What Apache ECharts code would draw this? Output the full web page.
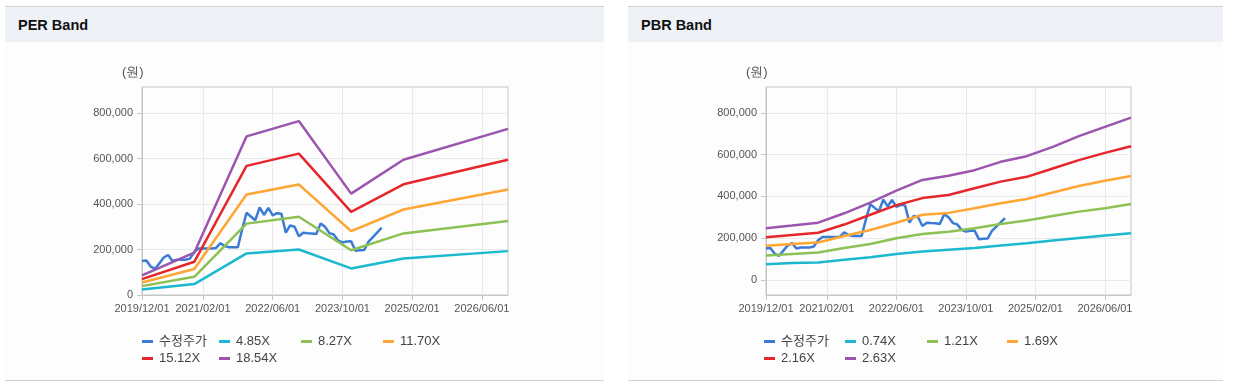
<!DOCTYPE html>
<html><head><meta charset="utf-8">
<script src="https://cdn.jsdelivr.net/npm/echarts@6/dist/echarts.min.js"></script>
<style>
html,body{margin:0;padding:0;background:#fff;width:1241px;height:387px;overflow:hidden;font-family:"Liberation Sans",Arial,"Noto Sans CJK KR",sans-serif;}
.panel{position:absolute;top:6px;height:373px;border-top:1px solid #d2d2d2;border-bottom:1px solid #d2d2d2;background:#fdfdfd;}
.hd{height:35px;background:#eef2f7;font-weight:bold;font-size:14.5px;line-height:37px;padding-left:13px;color:#111;}
#chart{position:absolute;left:0;top:0;width:1241px;height:387px;}
</style></head>
<body>
<div class="panel" style="left:5px;width:599px"><div class="hd">PER Band</div></div>
<div class="panel" style="left:628px;width:595px"><div class="hd">PBR Band</div></div>
<div id="chart"></div>
<script>
const months = [
'2019/12/01',
'2020/01/01','2020/02/01','2020/03/01','2020/04/01','2020/05/01','2020/06/01','2020/07/01','2020/08/01','2020/09/01','2020/10/01','2020/11/01','2020/12/01',
'2021/01/01','2021/02/01','2021/03/01','2021/04/01','2021/05/01','2021/06/01','2021/07/01','2021/08/01','2021/09/01','2021/10/01','2021/11/01','2021/12/01',
'2022/01/01','2022/02/01','2022/03/01','2022/04/01','2022/05/01','2022/06/01','2022/07/01','2022/08/01','2022/09/01','2022/10/01','2022/11/01','2022/12/01',
'2023/01/01','2023/02/01','2023/03/01','2023/04/01','2023/05/01','2023/06/01','2023/07/01','2023/08/01','2023/09/01','2023/10/01','2023/11/01','2023/12/01',
'2024/01/01','2024/02/01','2024/03/01','2024/04/01','2024/05/01','2024/06/01','2024/07/01','2024/08/01','2024/09/01','2024/10/01','2024/11/01','2024/12/01',
'2025/01/01','2025/02/01','2025/03/01','2025/04/01','2025/05/01','2025/06/01','2025/07/01','2025/08/01','2025/09/01','2025/10/01','2025/11/01','2025/12/01',
'2026/01/01','2026/02/01','2026/03/01','2026/04/01','2026/05/01','2026/06/01','2026/07/01','2026/08/01','2026/09/01','2026/10/01','2026/11/01','2026/12/01'
];
const xTickLabels = ['2019/12/01','2021/02/01','2022/06/01','2023/10/01','2025/02/01','2026/06/01'];
const yTickValues = [0,200000,400000,600000,800000];

// 수정주가 (monthly from 2019/12)
const price = [150000,152000,125000,115000,140000,165000,176000,150000,155000,155000,155000,160000,
  190000,205000,205000,205000,205000,207000,228000,215000,210000,210000,210000,290000,
  362000,345000,329000,385000,352000,383000,350000,360000,357000,274000,306000,300000,
  258000,274000,272000,271000,268000,315000,300000,272000,266000,240000,231000,235000,
  236000,195000,197000,198000,235000,255000,275000,296000];

// PER band
const perDates = ['2019/12/01','2020/12/01','2021/12/01','2022/12/01','2023/12/01','2024/12/01','2026/12/01'];
const per485  = [24000, 48000, 183000, 200000, 117000, 161000, 193000];
const per827  = [39000, 80000, 314000, 344000, 197000, 271000, 326000];
const per1170 = [55000, 114000, 442000, 486000, 281000, 376000, 464000];
const per1512 = [70000, 146000, 568000, 622000, 366000, 487000, 595000];
const per1854 = [86000, 186000, 698000, 765000, 446000, 595000, 731000];

// PBR band
const pbrDates = ['2019/12/01','2020/06/01','2020/12/01','2021/06/01','2021/12/01','2022/06/01','2022/12/01','2023/06/01','2023/12/01','2024/06/01','2024/12/01','2025/06/01','2025/12/01','2026/06/01','2026/12/01'];
const pbr074 = [75000, 80000, 83000, 96000, 108000, 124000, 136000, 144000, 152000, 164000, 175000, 188000, 201000, 212000, 223000];
const pbr121 = [116000, 124000, 131000, 152000, 172000, 199000, 220000, 231000, 247000, 268000, 284000, 306000, 327000, 343000, 364000];
const pbr169 = [163000, 172000, 179000, 210000, 239000, 274000, 312000, 321000, 343000, 367000, 388000, 419000, 450000, 475000, 498000];
const pbr216 = [204000, 215000, 226000, 265000, 312000, 358000, 392000, 407000, 439000, 471000, 494000, 534000, 574000, 609000, 641000];
const pbr263 = [247000, 260000, 274000, 319000, 370000, 428000, 479000, 499000, 526000, 566000, 593000, 638000, 689000, 734000, 778000];

const C = {price:'#3a7bd5', cyan:'#1cb8cf', green:'#8dc153', orange:'#ffa534', red:'#e5262b', purple:'#9b55ae'};
const FF = '"Liberation Sans", Arial, "Noto Sans CJK KR", sans-serif';

const pair = (dates, vals) => dates.map((d, i) => [d, vals[i]]);
const showIdx = (i, v) => xTickLabels.indexOf(v) >= 0;

function xAxisCfg(gi){
  return {type:'category', gridIndex:gi, data:months, boundaryGap:false,
    axisLine:{onZero:false, lineStyle:{color:'#c6c6c6'}},
    axisTick:{show:true, interval:showIdx, length:5, lineStyle:{color:'#c6c6c6'}},
    axisLabel:{interval:showIdx, color:'#555', fontSize:11, margin:8, fontFamily:FF},
    splitLine:{show:true, interval:showIdx, lineStyle:{color:'#e9e9e9'}}};
}
function yAxisCfg(gi, mn, mx){
  return {type:'value', gridIndex:gi, min:mn, max:mx,
    axisLine:{show:true, lineStyle:{color:'#c6c6c6'}},
    axisTick:{show:true, length:5, customValues:yTickValues, lineStyle:{color:'#c6c6c6'}},
    axisLabel:{customValues:yTickValues, formatter:v => Number(v).toLocaleString('en-US'), color:'#555', fontSize:11, margin:9, fontFamily:FF},
    splitLine:{show:true, lineStyle:{color:'#e9e9e9'}}};
}
function line(name, data, color, gi){
  return {type:'line', name, data, xAxisIndex:gi, yAxisIndex:gi, symbol:'none', showSymbol:false,
    lineStyle:{color, width:2.5}, itemStyle:{color}, silent:true, animation:false};
}
function leg(name, left, top){
  return {data:[name], left, top, icon:'rect', itemWidth:11, itemHeight:3, itemGap:0, padding:0,
    textStyle:{fontSize:13, color:'#444', fontFamily:FF, padding:[0,0,0,1]}, selectedMode:false};
}

const chart = echarts.init(document.getElementById('chart'), null, {renderer:'canvas'});
chart.setOption({
  animation:false,
  textStyle:{fontFamily:FF},
  grid:[
    {left:142, top:87, width:366, height:208, show:true, borderColor:'#c6c6c6', borderWidth:1},
    {left:766, top:87, width:365, height:208, show:true, borderColor:'#c6c6c6', borderWidth:1}
  ],
  xAxis:[xAxisCfg(0), xAxisCfg(1)],
  yAxis:[yAxisCfg(0, 0, 915000), yAxisCfg(1, -73000, 925000)],
  legend:[
    leg('수정주가', 142, 335), leg('4.85X', 219, 335), leg('8.27X', 301, 335), leg('11.70X', 383, 335),
    leg('15.12X', 142, 352), leg('18.54X', 219, 352),
    leg('수정주가', 764, 335), leg('0.74X', 845, 335), leg('1.21X', 927, 335), leg('1.69X', 1007, 335),
    leg('2.16X', 764, 352), leg('2.63X', 845, 352)
  ],
  graphic:[
    {type:'text', left:122, top:66, style:{text:'(원)', fontSize:13, fill:'#555', font:'13px "Noto Sans CJK KR", sans-serif'}},
    {type:'text', left:746, top:66, style:{text:'(원)', fontSize:13, fill:'#555', font:'13px "Noto Sans CJK KR", sans-serif'}}
  ],
  series:[
    line('수정주가', price, C.price, 0),
    line('4.85X', pair(perDates, per485), C.cyan, 0),
    line('8.27X', pair(perDates, per827), C.green, 0),
    line('11.70X', pair(perDates, per1170), C.orange, 0),
    line('15.12X', pair(perDates, per1512), C.red, 0),
    line('18.54X', pair(perDates, per1854), C.purple, 0),
    line('수정주가', price, C.price, 1),
    line('0.74X', pair(pbrDates, pbr074), C.cyan, 1),
    line('1.21X', pair(pbrDates, pbr121), C.green, 1),
    line('1.69X', pair(pbrDates, pbr169), C.orange, 1),
    line('2.16X', pair(pbrDates, pbr216), C.red, 1),
    line('2.63X', pair(pbrDates, pbr263), C.purple, 1)
  ]
});
</script>
</body></html>
